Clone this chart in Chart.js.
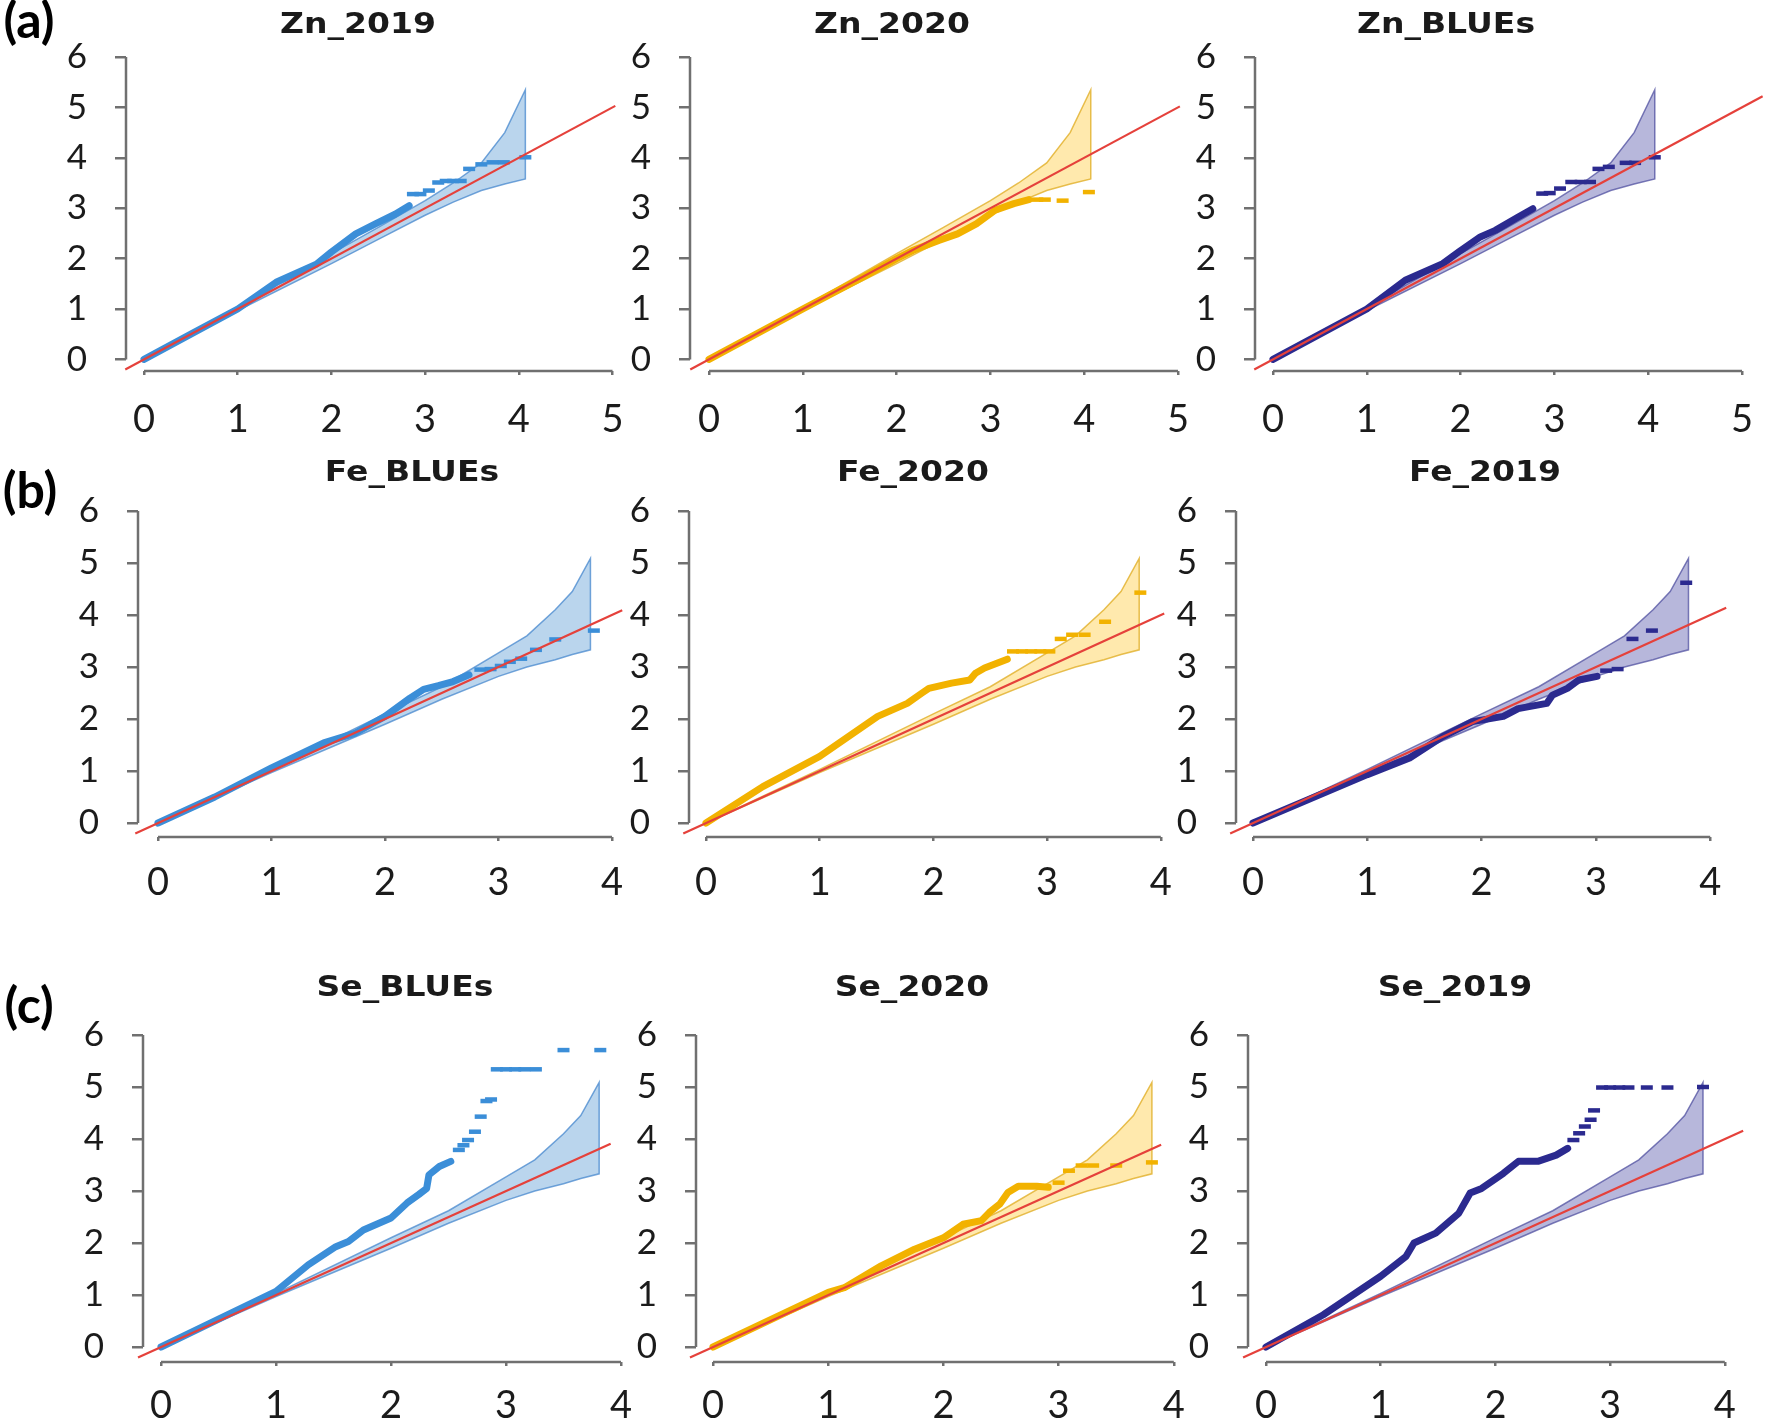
<!DOCTYPE html>
<html>
<head>
<meta charset="utf-8">
<title>QQ plots Zn Fe Se</title>
<script src="https://cdn.jsdelivr.net/npm/chart.js@4.4.1/dist/chart.umd.min.js"></script>
<style>
  html, body { margin: 0; padding: 0; background: #fff; }
  body { width: 1770px; height: 1425px; position: relative; overflow: hidden; }
  canvas { position: absolute; }
  .title {
    position: absolute; white-space: nowrap; line-height: 1;
    font-family: "DejaVu Sans", sans-serif; font-weight: bold; font-size: 28px; color: #1a1a1a;
    transform: translate(-50%, -50%) scaleX(1.18);
  }
  .tag {
    position: absolute; white-space: nowrap; line-height: 1;
    font-family: Lato, sans-serif; font-weight: bold; font-size: 50px; color: #000;
    transform: translate(-50%, -50%);
  }
</style>
</head>
<body>
<script>
'use strict';

// panel titles, in reading order
var titles = ['Zn_2019', 'Zn_2020', 'Zn_BLUEs', 'Fe_BLUEs', 'Fe_2020', 'Fe_2019', 'Se_BLUEs', 'Se_2020', 'Se_2019'];
var rowTags = ['(a)', '(b)', '(c)'];

// tick labels
var yTickMax = 6;
var xTickMax = [5, 5, 5, 4, 4, 4, 4, 4, 4];

// confidence band, row (a) panels
var bandAX     = [0, 1, 2, 2.5, 3, 3.3, 3.6, 3.85, 4.07];
var bandAUpper = [0, 1.03, 2.1, 2.62, 3.15, 3.5, 3.9, 4.5, 5.35];
var bandALower = [0, 0.97, 1.9, 2.38, 2.86, 3.12, 3.35, 3.48, 3.58];
// confidence band, rows (b) and (c)
var bandBX     = [0, 1, 2, 2.5, 3, 3.25, 3.5, 3.65, 3.81];
var bandBUpper = [0, 1.03, 2.1, 2.62, 3.27, 3.6, 4.1, 4.45, 5.09];
var bandBLower = [0, 0.97, 1.9, 2.38, 2.82, 3.0, 3.14, 3.24, 3.33];

// end of the y = x reference line in each panel
var refLineStart = -0.2;
var refLineEnd = [5.03, 5.02, 5.22, 4.09, 4.03, 4.14, 3.91, 3.89, 4.16];

// observed -log10(p) vs expected: dense part [expected, observed]
var zn2019Obs = [[0,0],[0.5,0.5],[1,1.0],[1.41,1.53],[1.84,1.89],[2,2.13],[2.26,2.49],[2.47,2.69],[2.68,2.88],[2.83,3.05]];
var zn2020Obs = [[0,0],[1,1.0],[1.64,1.63],[2,2.0],[2.17,2.16],[2.45,2.36],[2.65,2.49],[2.85,2.69],[3.05,2.96],[3.25,3.09],[3.41,3.17]];
var znBluesObs = [[0,0],[1,1.0],[1.41,1.57],[1.81,1.9],[2,2.16],[2.21,2.43],[2.37,2.56],[2.61,2.82],[2.77,2.99]];
var feBluesObs = [[0,0],[0.5,0.5],[1,1.06],[1.46,1.54],[1.74,1.73],[2,2.05],[2.22,2.4],[2.34,2.57],[2.47,2.64],[2.6,2.72],[2.74,2.85]];
var fe2020Obs = [[0,0],[0.5,0.7],[1,1.28],[1.51,2.05],[1.77,2.3],[1.9,2.5],[1.96,2.59],[2.16,2.69],[2.32,2.75],[2.37,2.88],[2.45,2.98],[2.65,3.15]];
var fe2019Obs = [[0,0],[1,0.93],[1.37,1.25],[1.66,1.66],[1.92,1.95],[2.19,2.05],[2.32,2.2],[2.57,2.3],[2.62,2.46],[2.75,2.59],[2.85,2.75],[3.01,2.82]];
var seBluesObs = [[0,0],[1,1.07],[1.28,1.58],[1.52,1.93],[1.63,2.03],[1.76,2.25],[2,2.48],[2.14,2.77],[2.24,2.93],[2.31,3.05],[2.33,3.31],[2.42,3.47],[2.52,3.57]];
var se2020Obs = [[0,0],[1,1.05],[1.14,1.14],[1.46,1.56],[1.75,1.88],[2,2.1],[2.17,2.36],[2.33,2.43],[2.4,2.59],[2.49,2.75],[2.56,2.97],[2.65,3.09],[2.81,3.09],[2.91,3.07]];
var se2019Obs = [[0,0],[0.5,0.62],[1,1.36],[1.22,1.74],[1.29,2.0],[1.48,2.19],[1.68,2.57],[1.78,2.96],[1.88,3.05],[2.07,3.34],[2.2,3.57],[2.37,3.57],[2.53,3.69],[2.63,3.82]];

// observed: sparse top markers
var zn2019Tail = [[2.87,3.28],[2.95,3.28],[3.04,3.35],[3.14,3.51],[3.22,3.54],[3.3,3.54],[3.38,3.54],[3.47,3.78],[3.6,3.87],[3.72,3.91],[3.84,3.91],[4.07,4.01]];
var zn2020Tail = [[3.5,3.17],[3.58,3.17],[3.77,3.15],[4.05,3.32]];
var znBluesTail = [[2.87,3.29],[2.95,3.3],[3.06,3.39],[3.18,3.52],[3.28,3.52],[3.38,3.52],[3.47,3.78],[3.58,3.82],[3.76,3.9],[3.86,3.9],[4.07,4.01]];
var feBluesTail = [[2.84,2.95],[2.93,2.96],[3.02,3.02],[3.1,3.1],[3.2,3.16],[3.33,3.33],[3.5,3.53],[3.84,3.7]];
var fe2020Tail = [[2.7,3.3],[2.78,3.3],[2.86,3.3],[2.94,3.3],[3.02,3.3],[3.12,3.54],[3.22,3.62],[3.33,3.62],[3.51,3.87],[3.82,4.43]];
var fe2019Tail = [[3.09,2.93],[3.19,2.96],[3.32,3.54],[3.49,3.7],[3.79,4.62]];
var seBluesTail = [[2.59,3.79],[2.63,3.88],[2.67,3.98],[2.73,4.14],[2.78,4.43],[2.83,4.73],[2.87,4.76],[2.92,5.34],[3.0,5.34],[3.08,5.34],[3.16,5.34],[3.26,5.34],[3.5,5.71],[3.82,5.71]];
var se2020Tail = [[3.0,3.16],[3.09,3.39],[3.2,3.49],[3.3,3.49],[3.5,3.49],[3.81,3.55]];
var se2019Tail = [[2.68,3.98],[2.73,4.11],[2.78,4.24],[2.83,4.37],[2.86,4.55],[2.93,4.99],[3.0,4.99],[3.08,4.99],[3.16,4.99],[3.32,4.99],[3.5,4.99],[3.81,5.0]];

var observed = [zn2019Obs, zn2020Obs, znBluesObs, feBluesObs, fe2020Obs, fe2019Obs, seBluesObs, se2020Obs, se2019Obs];
var tails = [zn2019Tail, zn2020Tail, znBluesTail, feBluesTail, fe2020Tail, fe2019Tail, seBluesTail, se2020Tail, se2019Tail];

// ---- styling and page layout (not data) ----
var palette = [
    { point: '#3b8ed8', fill: 'rgba(91,155,213,0.42)', edge: 'rgba(70,135,205,0.75)' },
    { point: '#f2b200', fill: 'rgba(255,196,40,0.38)', edge: 'rgba(225,175,40,0.8)' },
    { point: '#2b2a8f', fill: 'rgba(96,96,176,0.45)', edge: 'rgba(80,80,160,0.75)' }
];
var axisGray = '#707070';
var refRed = '#e5413b';

// row: pixel of y=6, pixel of the x axis line, px per y unit, x label padding
var rows = [
    { top: 57, xAxisY: 371, yu: 50.4, labelPad: 22 },
    { top: 511, xAxisY: 837, yu: 52, labelPad: 19 },
    { top: 1035, xAxisY: 1362, yu: 52, labelPad: 17 }
];
// panel: pixel of y axis line, pixel of x=0, px per x unit, right edge of plot
var panels = [
    { yAxisX: 126, x0: 144, xu: 93.7, right: 624 },
    { yAxisX: 690, x0: 709, xu: 93.8, right: 1189 },
    { yAxisX: 1255, x0: 1273, xu: 93.8, right: 1766 },
    { yAxisX: 138, x0: 158, xu: 113.5, right: 626 },
    { yAxisX: 689, x0: 706, xu: 113.7, right: 1172 },
    { yAxisX: 1236, x0: 1253, xu: 114.3, right: 1733 },
    { yAxisX: 143, x0: 161, xu: 115, right: 633 },
    { yAxisX: 696, x0: 713, xu: 115.2, right: 1185 },
    { yAxisX: 1248, x0: 1266, xu: 114.7, right: 1748 }
];
var titlePos = [[358,24],[892,24],[1446,24],[412,472],[913,472],[1485,472],[405,987],[912,987],[1455,987]];
var tagPos = [[29,19],[30,489],[29,1004]];

// canvas margins round the plot area; top must hold half a label plus tick padding
var PAD_TOP = 60, PAD_RIGHT = 50, Y_BOX = 80, X_BOX = 75;

function toPoints(pairs) {
    return pairs.map(function (p) { return { x: p[0], y: p[1] }; });
}

function bandPolygon(bx, upper, lower) {
    var pts = [];
    for (var i = 0; i < bx.length; i++) pts.push({ x: bx[i], y: upper[i] });
    for (var j = bx.length - 1; j >= 0; j--) pts.push({ x: bx[j], y: lower[j] });
    return pts;
}

// axis lines drawn only over the tick range, like the original
var qqAxes = {
    id: 'qqAxes',
    beforeDatasetsDraw: function (chart, args, opts) {
        var ctx = chart.ctx, xs = chart.scales.x, ys = chart.scales.y, a = chart.chartArea;
        ctx.save();
        ctx.strokeStyle = axisGray;
        ctx.lineWidth = 2.5;
        ctx.beginPath();
        ctx.moveTo(a.left, ys.getPixelForValue(0));
        ctx.lineTo(a.left, ys.getPixelForValue(yTickMax));
        ctx.moveTo(xs.getPixelForValue(0), a.bottom);
        ctx.lineTo(xs.getPixelForValue(opts.xEnd), a.bottom);
        ctx.stroke();
        ctx.restore();
    }
};

function makePanel(i) {
    var r = Math.floor(i / 3);
    var row = rows[r], pan = panels[i], col = palette[i % 3];
    var band = r === 0 ? bandPolygon(bandAX, bandAUpper, bandALower) : bandPolygon(bandBX, bandBUpper, bandBLower);

    var areaW = pan.right - pan.yAxisX;
    var areaH = row.xAxisY - row.top;
    var canvas = document.createElement('canvas');
    canvas.width = Y_BOX + areaW + PAD_RIGHT;
    canvas.height = PAD_TOP + areaH + X_BOX;
    canvas.style.left = (pan.yAxisX - Y_BOX) + 'px';
    canvas.style.top = (row.top - PAD_TOP) + 'px';
    document.body.appendChild(canvas);

    var xEnd = xTickMax[i];

    new Chart(canvas.getContext('2d'), {
        type: 'scatter',
        data: {
            datasets: [
                {
                    label: 'expected',
                    data: [{ x: refLineStart, y: refLineStart }, { x: refLineEnd[i], y: refLineEnd[i] }],
                    showLine: true, borderColor: refRed, borderWidth: 2.2, pointRadius: 0, clip: false
                },
                {
                    label: 'observed tail',
                    data: toPoints(tails[i]),
                    showLine: false, pointStyle: 'line', pointRadius: 6,
                    borderColor: col.point, pointBorderColor: col.point, pointBorderWidth: 4.5
                },
                {
                    label: 'observed',
                    data: toPoints(observed[i]),
                    showLine: true, borderColor: col.point, borderWidth: 7, pointRadius: 0,
                    borderCapStyle: 'round', borderJoinStyle: 'round'
                },
                {
                    label: 'band',
                    data: band,
                    showLine: true, fill: 'shape', backgroundColor: col.fill,
                    borderColor: col.edge, borderWidth: 1.5, pointRadius: 0
                }
            ]
        },
        options: {
            responsive: false,
            animation: false,
            devicePixelRatio: 1,
            layout: { padding: { top: PAD_TOP, right: PAD_RIGHT, bottom: 0, left: 0 } },
            plugins: {
                legend: { display: false },
                tooltip: { enabled: false },
                qqAxes: { xEnd: xEnd }
            },
            scales: {
                x: {
                    type: 'linear',
                    min: (pan.yAxisX - pan.x0) / pan.xu,
                    max: (pan.right - pan.x0) / pan.xu,
                    afterFit: function (s) { s.height = X_BOX; },
                    border: { display: false },
                    grid: { drawOnChartArea: false, drawTicks: true, tickLength: 4, color: axisGray, lineWidth: 2.5 },
                    ticks: {
                        stepSize: 1, includeBounds: false, autoSkip: false, maxRotation: 0,
                        padding: row.labelPad, color: '#1b1b1b',
                        font: { family: 'Lato', size: 38 },
                        callback: function (v) { return v <= xEnd ? String(v) : ''; }
                    }
                },
                y: {
                    type: 'linear',
                    min: yTickMax - areaH / row.yu,
                    max: yTickMax,
                    afterFit: function (s) { s.width = Y_BOX; },
                    border: { display: false },
                    grid: { drawOnChartArea: false, drawTicks: true, tickLength: 11, color: axisGray, lineWidth: 2.5 },
                    ticks: {
                        stepSize: 1, includeBounds: false, autoSkip: false,
                        padding: 28, color: '#1b1b1b',
                        font: { family: 'Lato', size: 35 }
                    }
                }
            }
        },
        plugins: [qqAxes]
    });
}

function addText(cls, text, pos) {
    var d = document.createElement('div');
    d.className = cls;
    d.textContent = text;
    d.style.left = pos[0] + 'px';
    d.style.top = pos[1] + 'px';
    document.body.appendChild(d);
}

for (var i = 0; i < 9; i++) {
    makePanel(i);
    addText('title', titles[i], titlePos[i]);
}
for (var t = 0; t < 3; t++) addText('tag', rowTags[t], tagPos[t]);
</script>
</body>
</html>
